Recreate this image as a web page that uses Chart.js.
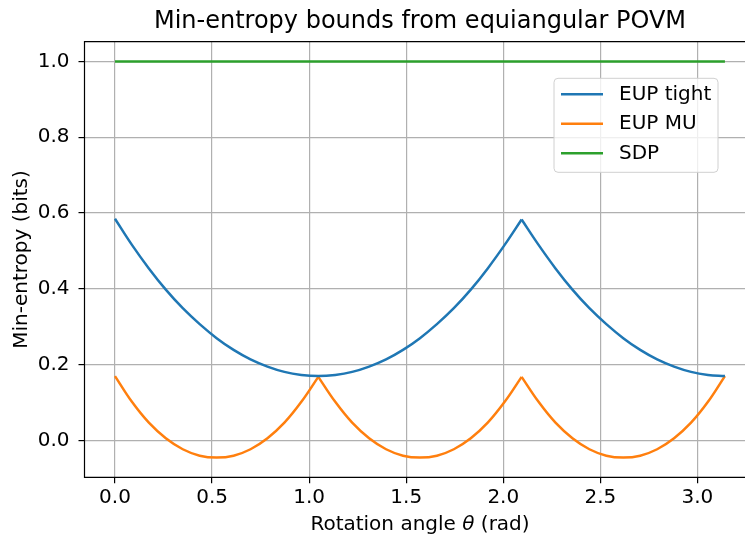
<!DOCTYPE html>
<html>
<head>
<meta charset="utf-8">
<script src="https://cdn.jsdelivr.net/npm/chart.js@4.4.0/dist/chart.umd.min.js"></script>
<style>
  html, body { margin: 0; padding: 0; background: #fff; overflow: hidden; }
  canvas { display: block; }
</style>
</head>
<body>
<canvas id="chart" width="745" height="541"></canvas>
<script>
// rotation angle (rad), every 5 degrees
const theta = [0, 0.0873, 0.1745, 0.2618, 0.3491, 0.4363, 0.5236, 0.6109, 0.6981, 0.7854,
  0.8727, 0.9599, 1.0472, 1.1345, 1.2217, 1.3090, 1.3963, 1.4835, 1.5708, 1.6581,
  1.7453, 1.8326, 1.9199, 2.0071, 2.0944, 2.1817, 2.2689, 2.3562, 2.4435, 2.5307,
  2.6180, 2.7053, 2.7925, 2.8798, 2.9671, 3.0543, 3.1416];
const eupTight = [0.585, 0.516, 0.454, 0.398, 0.349, 0.307, 0.270, 0.239, 0.214, 0.195,
  0.181, 0.173, 0.170, 0.173, 0.181, 0.195, 0.214, 0.239, 0.270, 0.307,
  0.349, 0.398, 0.454, 0.516, 0.583, 0.516, 0.454, 0.398, 0.349, 0.307,
  0.270, 0.239, 0.214, 0.195, 0.181, 0.173, 0.170];
const eupMU = [0.170, 0.102, 0.047, 0.006, -0.023, -0.040, -0.045, -0.040, -0.023, 0.006,
  0.047, 0.102, 0.168, 0.102, 0.047, 0.006, -0.023, -0.040, -0.045, -0.040,
  -0.023, 0.006, 0.047, 0.102, 0.168, 0.102, 0.047, 0.006, -0.023, -0.040,
  -0.045, -0.040, -0.023, 0.006, 0.047, 0.102, 0.170];
const sdpTheta = [0, 3.1416];
const sdp = [1.0, 1.0];

// indices of the kinks (cusps) where each curve is split into smooth pieces
const tightKinks = [0, 24, 36];
const muKinks = [0, 12, 24, 36];

const seriesNames = ['EUP tight', 'EUP MU', 'SDP'];
const xTicks = [0, 0.5, 1.0, 1.5, 2.0, 2.5, 3.0];
const yTicks = [0, 0.2, 0.4, 0.6, 0.8, 1.0];

const COLORS = ['#1f77b4', '#ff7f0e', '#2ca02c'];
const FONT = "'DejaVu Sans', sans-serif";
const TICK_PX = 20;
const AXES_CENTER_X = 420; // the original axes run past the right edge of the image

const pts = (xs, ys) => xs.map((x, i) => ({ x, y: ys[i] }));

function pieces(label, ys, kinks, color) {
  const out = [];
  for (let k = 0; k < kinks.length - 1; k++) {
    const a = kinks[k], b = kinks[k + 1] + 1;
    out.push({ label, data: pts(theta.slice(a, b), ys.slice(a, b)), borderColor: color,
      borderWidth: 2.5, pointRadius: 0, tension: 0.4, fill: false });
  }
  return out;
}

// title, axis titles, frame and legend drawn like matplotlib
const decor = {
  id: 'decor',
  afterDatasetsDraw(chart) {
    const { ctx, chartArea: a } = chart;
    ctx.save();
    ctx.strokeStyle = '#000';
    ctx.lineWidth = 1.2;
    ctx.beginPath();
    ctx.moveTo(chart.width + 2, a.top);
    ctx.lineTo(a.left, a.top);
    ctx.lineTo(a.left, a.bottom);
    ctx.lineTo(chart.width + 2, a.bottom);
    ctx.stroke();

    ctx.fillStyle = '#000';
    ctx.textBaseline = 'middle';
    ctx.textAlign = 'center';
    ctx.font = `24px ${FONT}`;
    ctx.fillText('Min-entropy bounds from equiangular POVM', AXES_CENTER_X, 22);

    // x axis title with italic theta
    ctx.font = `${TICK_PX}px ${FONT}`;
    const p1 = 'Rotation angle ', p3 = ' (rad)';
    const w1 = ctx.measureText(p1).width, w3 = ctx.measureText(p3).width;
    ctx.font = `italic ${TICK_PX}px ${FONT}`;
    const w2 = ctx.measureText('θ').width;
    const x = AXES_CENTER_X - (w1 + w2 + w3) / 2;
    ctx.textAlign = 'left';
    ctx.font = `${TICK_PX}px ${FONT}`;
    ctx.fillText(p1, x, 525);
    ctx.font = `italic ${TICK_PX}px ${FONT}`;
    ctx.fillText('θ', x + w1, 525);
    ctx.font = `${TICK_PX}px ${FONT}`;
    ctx.fillText(p3, x + w1 + w2, 525);

    // y axis title
    ctx.save();
    ctx.translate(22, (a.top + a.bottom) / 2);
    ctx.rotate(-Math.PI / 2);
    ctx.textAlign = 'center';
    ctx.fillText('Min-entropy (bits)', 0, 0);
    ctx.restore();

    // legend
    const bx = 554, by = 78.3, bw = 164, bh = 94;
    ctx.beginPath();
    ctx.roundRect(bx, by, bw, bh, 4);
    ctx.fillStyle = 'rgba(255,255,255,0.8)';
    ctx.fill();
    ctx.strokeStyle = '#d0d0d0';
    ctx.lineWidth = 1;
    ctx.stroke();
    seriesNames.forEach((name, i) => {
      const y = 94.3 + i * 29.5;
      ctx.beginPath();
      ctx.moveTo(561, y);
      ctx.lineTo(603, y);
      ctx.strokeStyle = COLORS[i];
      ctx.lineWidth = 2.5;
      ctx.stroke();
      ctx.fillStyle = '#000';
      ctx.textAlign = 'left';
      ctx.font = `${TICK_PX}px ${FONT}`;
      ctx.fillText(name, 619, y);
    });
    ctx.restore();
  }
};

const axisCommon = {
  type: 'linear',
  grid: { color: '#b0b0b0', lineWidth: 1.2, tickColor: '#000', tickLength: 6, tickWidth: 1.2 },
  border: { display: false },
  ticks: { color: '#000', font: { family: FONT, size: TICK_PX }, callback: v => v.toFixed(1) }
};

new Chart(document.getElementById('chart'), {
  type: 'line',
  data: {
    datasets: [
      ...pieces(seriesNames[0], eupTight, tightKinks, COLORS[0]),
      ...pieces(seriesNames[1], eupMU, muKinks, COLORS[1]),
      { label: seriesNames[2], data: pts(sdpTheta, sdp), borderColor: COLORS[2],
        borderWidth: 2.5, pointRadius: 0, tension: 0, fill: false }
    ]
  },
  options: {
    responsive: false,
    animation: false,
    layout: { padding: { top: 41.7, right: 0, left: 0, bottom: 0 } },
    plugins: { legend: { display: false }, tooltip: { enabled: false } },
    scales: {
      x: { ...axisCommon, min: -0.157, max: 3.245,
        ticks: { ...axisCommon.ticks, padding: 2, maxRotation: 0 },
        afterBuildTicks: s => { s.ticks = xTicks.map(value => ({ value })); },
        afterFit: s => { s.height = 541 - 477.3; } },
      y: { ...axisCommon, min: -0.097, max: 1.052,
        ticks: { ...axisCommon.ticks, padding: 9 },
        afterBuildTicks: s => { s.ticks = yTicks.map(value => ({ value })); },
        afterFit: s => { s.width = 84.5; } }
    }
  },
  plugins: [decor]
});
</script>
</body>
</html>
